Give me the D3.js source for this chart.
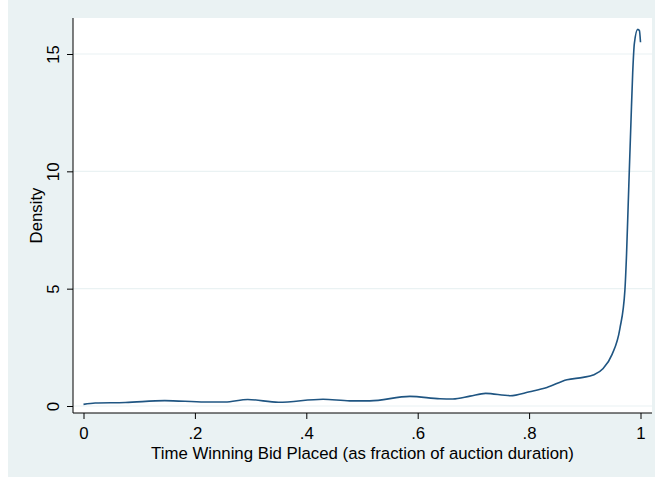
<!DOCTYPE html>
<html>
<head>
<meta charset="utf-8">
<script src="https://cdn.jsdelivr.net/npm/d3@7"></script>
<style>
  body { margin: 0; background: #fff; }
  svg text { font-family: "Liberation Sans", Arial, Helvetica, sans-serif; fill: #000; }
</style>
</head>
<body>
<div id="chart"></div>
<script>
// kdensity of the winning bid time
const timeVals = [0, 0.021, 0.075, 0.146, 0.218, 0.254, 0.295, 0.35, 0.43, 0.478, 0.514, 0.586, 0.64, 0.663, 0.694, 0.722, 0.766, 0.801, 0.832, 0.868, 0.897, 0.915, 0.933, 0.949, 0.963, 0.972, 0.975, 0.978, 0.981, 0.983, 0.986, 0.989, 0.995, 0.998, 1.0];
const densityVals = [0.07, 0.13, 0.15, 0.23, 0.17, 0.17, 0.28, 0.16, 0.29, 0.22, 0.22, 0.41, 0.31, 0.30, 0.42, 0.54, 0.44, 0.61, 0.79, 1.12, 1.22, 1.32, 1.6, 2.2, 3.3, 4.94, 6.5, 8.65, 10.8, 12.2, 14.2, 15.45, 16.05, 16.0, 15.5];

const xTicks = [0, 0.2, 0.4, 0.6, 0.8, 1];
const xTickLabels = ["0", ".2", ".4", ".6", ".8", "1"];
const yTicks = [0, 5, 10, 15];

const xTitle = "Time Winning Bid Placed (as fraction of auction duration)";
const yTitle = "Density";

const W = 655, H = 477;
const plot = { left: 73, top: 18, right: 652, bottom: 413 };
const fontSize = 16.8;

const svg = d3.select("#chart").append("svg")
  .attr("width", W)
  .attr("height", H);

// graph region background (Stata s2color)
svg.append("rect")
  .attr("x", 8).attr("y", 0)
  .attr("width", W - 8).attr("height", H)
  .attr("fill", "#eaf2f3");

// plot region
svg.append("rect")
  .attr("x", plot.left).attr("y", plot.top)
  .attr("width", plot.right - plot.left).attr("height", plot.bottom - plot.top)
  .attr("fill", "#fff");

const x = d3.scaleLinear().domain([0, 1]).range([83.5, 640.5]);
const y = d3.scaleLinear().domain([0, 15]).range([406, 54]);

// gridlines
svg.append("g")
  .selectAll("line")
  .data(yTicks)
  .enter()
  .append("line")
  .attr("x1", plot.left).attr("x2", plot.right)
  .attr("y1", d => y(d)).attr("y2", d => y(d))
  .attr("stroke", "#eaf2f3")
  .attr("stroke-width", 1.2);

// y axis
const yAxis = svg.append("g")
  .attr("transform", "translate(" + plot.left + ",0)")
  .call(d3.axisLeft(y).tickValues(yTicks).tickSize(6).tickSizeOuter(0));
yAxis.select(".domain").attr("d", "M0," + plot.top + "V" + plot.bottom).attr("stroke", "#000");
yAxis.selectAll(".tick line").attr("stroke", "#000");
// rotated tick labels, Stata style
yAxis.selectAll(".tick text")
  .attr("x", 0).attr("y", 0).attr("dy", 0)
  .attr("transform", "translate(-14,0) rotate(-90)")
  .attr("text-anchor", "middle")
  .attr("font-size", fontSize);

// x axis
const xAxis = svg.append("g")
  .attr("transform", "translate(0," + plot.bottom + ")")
  .call(d3.axisBottom(x).tickValues(xTicks).tickFormat((d, i) => xTickLabels[i]).tickSize(6).tickPadding(8).tickSizeOuter(0));
xAxis.select(".domain").attr("d", "M" + plot.left + ",0H" + plot.right).attr("stroke", "#000");
xAxis.selectAll(".tick line").attr("stroke", "#000");
xAxis.selectAll(".tick text").attr("font-size", fontSize);

// titles
svg.append("text")
  .attr("x", (plot.left + plot.right) / 2)
  .attr("y", 459)
  .attr("text-anchor", "middle")
  .attr("font-size", fontSize)
  .text(xTitle);

svg.append("text")
  .attr("transform", "translate(42," + ((plot.top + plot.bottom) / 2) + ") rotate(-90)")
  .attr("text-anchor", "middle")
  .attr("font-size", fontSize)
  .text(yTitle);

// density curve
const pts = timeVals.map((t, i) => [t, densityVals[i]]);
const line = d3.line()
  .x(d => x(d[0]))
  .y(d => y(d[1]))
  .curve(d3.curveMonotoneX);

svg.append("path")
  .datum(pts)
  .attr("d", line)
  .attr("fill", "none")
  .attr("stroke", "#1f5582")
  .attr("stroke-width", 1.6);
</script>
</body>
</html>
